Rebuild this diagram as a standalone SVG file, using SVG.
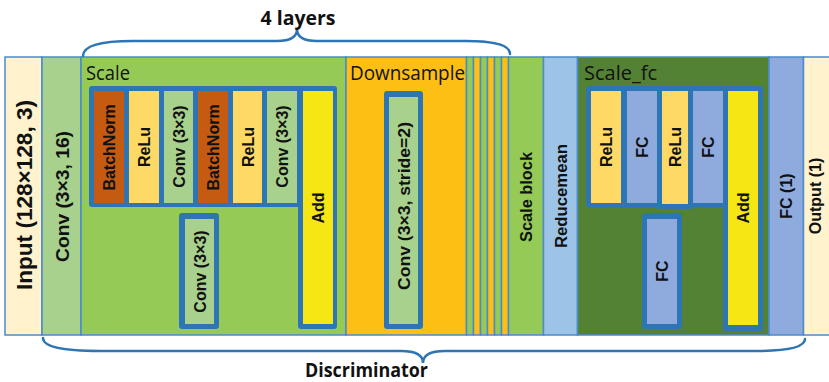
<svg xmlns="http://www.w3.org/2000/svg" width="829" height="382" viewBox="0 0 829 382">
<style>
.col{stroke:#4A8BCB;stroke-width:1.5}
.frame{fill:#2E75B6}
.cell{stroke:none}
.rl{font-family:"Liberation Sans",Arial,sans-serif;font-weight:bold;font-size:16px;fill:#111;text-anchor:middle}
.title{font-family:"Open Sans","Liberation Sans",sans-serif;font-size:19.5px;fill:#111}
.big{font-family:"Open Sans","Liberation Sans",sans-serif;font-weight:bold;font-size:20px;fill:#111;text-anchor:middle}
.brace{fill:none;stroke:#2E75B6;stroke-width:2.5;stroke-linecap:round}
.cream{fill:#FFF2CC}.lgreen{fill:#A9D18E}.green{fill:#94CA55}.orange{fill:#FDBF14}
.lblue{fill:#9DC3E6}.dgreen{fill:#548235}.fc{fill:#8FAADC}.bn{fill:#C55A11}.relu{fill:#FFD966}.add{fill:#F5E614}
</style>

<g id="input"><rect class="col cream" x="5" y="57" width="37" height="278"/>
<text class="rl" style="font-size:22.5px" transform="translate(32,195) rotate(-90)" textLength="190" lengthAdjust="spacingAndGlyphs">Input (128×128, 3)</text></g>

<g id="conv0"><rect class="col lgreen" x="42" y="57" width="39" height="278"/>
<text class="rl" style="font-size:18px" transform="translate(68.5,196.5) rotate(-90)" textLength="131" lengthAdjust="spacingAndGlyphs">Conv (3×3, 16)</text></g>

<g id="scale"><rect class="col green" x="81" y="57" width="265" height="278"/>
<text class="title" x="86" y="80" textLength="44" lengthAdjust="spacingAndGlyphs">Scale</text>
<path class="frame" d="M92,86 H334 Q337,86 337,89 V326 Q337,329 334,329 H301 Q298,329 298,326 V207 H92 Q89,207 89,204 V89 Q89,86 92,86 Z"/>
<rect class="frame" x="179" y="213" width="40" height="116" rx="3"/>
<g id="scale-bn1"><rect class="cell bn" x="94" y="91" width="30" height="112"/><text class="rl" transform="translate(115,147.5) rotate(-90)">BatchNorm</text></g>
<g id="scale-relu1"><rect class="cell relu" x="129" y="91" width="30" height="112"/><text class="rl" transform="translate(150,147) rotate(-90)">ReLu</text></g>
<g id="scale-conv1"><rect class="cell lgreen" x="164" y="91" width="29" height="112"/><text class="rl" transform="translate(184.5,146.5) rotate(-90)">Conv (3×3)</text></g>
<g id="scale-bn2"><rect class="cell bn" x="198" y="91" width="30" height="112"/><text class="rl" transform="translate(219,147.5) rotate(-90)">BatchNorm</text></g>
<g id="scale-relu2"><rect class="cell relu" x="233" y="91" width="29" height="112"/><text class="rl" transform="translate(253.5,147) rotate(-90)">ReLu</text></g>
<g id="scale-conv2"><rect class="cell lgreen" x="267" y="91" width="30" height="112"/><text class="rl" transform="translate(288,146.5) rotate(-90)">Conv (3×3)</text></g>
<g id="scale-add"><rect class="cell add" x="303" y="91" width="30" height="233"/><text class="rl" transform="translate(324,208) rotate(-90)">Add</text></g>
<g id="scale-skip"><rect class="cell lgreen" x="185" y="219" width="29" height="105"/><text class="rl" transform="translate(205.5,271.5) rotate(-90)">Conv (3×3)</text></g>
</g>

<g id="downsample"><rect class="col orange" x="346" y="57" width="120.5" height="278"/>
<text class="title" x="350" y="80" textLength="115" lengthAdjust="spacingAndGlyphs">Downsample</text>
<rect class="frame" x="384" y="91" width="39" height="238" rx="3"/>
<rect class="cell lgreen" x="389" y="97" width="29" height="227"/>
<text class="rl" transform="translate(410,206) rotate(-90)" textLength="168" lengthAdjust="spacingAndGlyphs">Conv (3×3, stride=2)</text></g>

<g id="layers">
<rect class="col green" x="466.5" y="57" width="7" height="278"/>
<rect class="col orange" x="473.5" y="57" width="7" height="278"/>
<rect class="col green" x="480.5" y="57" width="7" height="278"/>
<rect class="col orange" x="487.5" y="57" width="7" height="278"/>
<rect class="col green" x="494.5" y="57" width="7" height="278"/>
<rect class="col orange" x="501.5" y="57" width="7" height="278"/>
</g>

<g id="scaleblock"><rect class="col green" x="508.5" y="57" width="35" height="278"/>
<text class="rl" transform="translate(532,197) rotate(-90)" textLength="90" lengthAdjust="spacingAndGlyphs">Scale block</text></g>

<g id="reducemean"><rect class="col lblue" x="543.5" y="57" width="34" height="278"/>
<text class="rl" transform="translate(566.5,196) rotate(-90)" textLength="104" lengthAdjust="spacingAndGlyphs">Reducemean</text></g>

<g id="scalefc"><rect class="col dgreen" x="577.5" y="57" width="191.5" height="278"/>
<text class="title" x="584" y="80" textLength="73" lengthAdjust="spacingAndGlyphs">Scale_fc</text>
<path class="frame" d="M589,86 H760 Q763,86 763,89 V328 Q763,331 760,331 H726 Q723,331 723,328 V207.5 H589 Q586,207.5 586,204.5 V89 Q586,86 589,86 Z"/>
<rect class="frame" x="657" y="200" width="36" height="9" rx="2"/>
<rect class="frame" x="642" y="213" width="40" height="116" rx="3"/>
<g id="fc-relu1"><rect class="cell relu" x="591" y="91" width="30" height="112"/><text class="rl" transform="translate(612,147) rotate(-90)">ReLu</text></g>
<g id="fc-fc1"><rect class="cell fc" x="627" y="91" width="30" height="112"/><text class="rl" transform="translate(648,147) rotate(-90)">FC</text></g>
<g id="fc-relu2"><rect class="cell relu" x="662" y="91" width="26" height="113"/><text class="rl" transform="translate(681,147) rotate(-90)">ReLu</text></g>
<g id="fc-fc2"><rect class="cell fc" x="693" y="91" width="30" height="112"/><text class="rl" transform="translate(714,147) rotate(-90)">FC</text></g>
<g id="fc-add"><rect class="cell add" x="728" y="91" width="30" height="234"/><text class="rl" transform="translate(749,208) rotate(-90)">Add</text></g>
<g id="fc-skip"><rect class="cell fc" x="647" y="219" width="30" height="105"/><text class="rl" transform="translate(668,271) rotate(-90)">FC</text></g>
</g>

<g id="fc1"><rect class="col fc" x="769" y="57" width="34.5" height="278"/>
<text class="rl" transform="translate(792,196) rotate(-90)">FC (1)</text></g>

<g id="output"><rect class="col cream" x="803.5" y="57" width="32" height="278"/>
<text class="rl" transform="translate(821,196) rotate(-90)">Output (1)</text></g>

<g id="braces">
<path class="brace" d="M83,56 Q83,41 133,41 H277 Q297,41 297,29 Q297,41 317,41 H466 Q510,41 510,54"/>
<path class="brace" d="M43,338 Q43,351 100,351 H401 Q423,351 423,363 Q423,351 445,351 H755 Q805,351 805,339"/>
<text class="big" x="298" y="25" textLength="75" lengthAdjust="spacingAndGlyphs">4 layers</text>
<text class="big" x="366.5" y="377" textLength="123" lengthAdjust="spacingAndGlyphs">Discriminator</text>
</g>
</svg>
